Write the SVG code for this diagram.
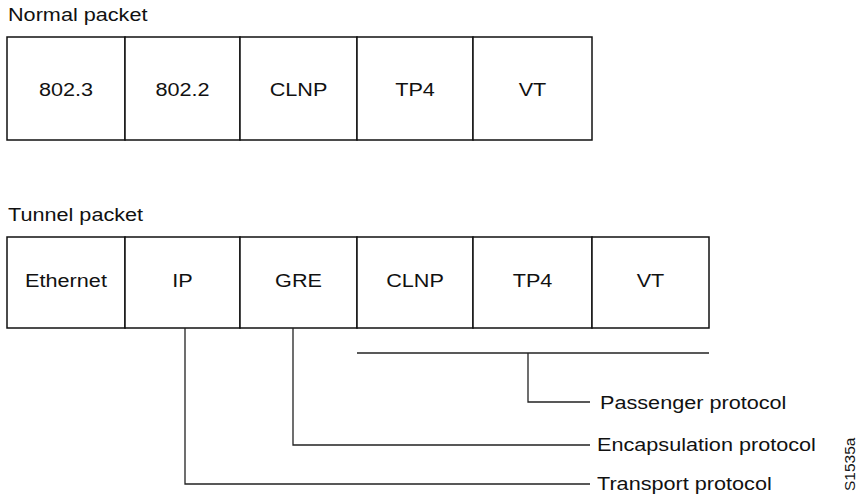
<svg xmlns="http://www.w3.org/2000/svg" width="858" height="500" viewBox="0 0 858 500">
  <style>
    .cell { fill: #fff; stroke: #111; stroke-width: 1.5; }
    .lbl { font-family: "Liberation Sans", Arial, sans-serif; font-size: 18.5px; fill: #111; }
    .mid { text-anchor: middle; }
    .wire { fill: none; stroke: #222; stroke-width: 1.3; }
    .tag { font-family: "Liberation Sans", Arial, sans-serif; font-size: 15.5px; fill: #111; }
  </style>
  <rect width="858" height="500" fill="#fff"/>

  <!-- Section captions -->
  <text class="lbl" transform="translate(8,21) scale(1.17,1)">Normal packet</text>
  <text class="lbl" transform="translate(8,221) scale(1.17,1)">Tunnel packet</text>

  <!-- Normal packet fields -->
  <g id="normal-packet">
    <g id="n-8023"><rect class="cell" x="7" y="37" width="118" height="103"/><text class="lbl mid" transform="translate(66,95.5) scale(1.17,1)">802.3</text></g>
    <g id="n-8022"><rect class="cell" x="125" y="37" width="115" height="103"/><text class="lbl mid" transform="translate(182.5,95.5) scale(1.17,1)">802.2</text></g>
    <g id="n-clnp"><rect class="cell" x="240" y="37" width="117" height="103"/><text class="lbl mid" transform="translate(298.5,95.5) scale(1.17,1)">CLNP</text></g>
    <g id="n-tp4"><rect class="cell" x="357" y="37" width="116" height="103"/><text class="lbl mid" transform="translate(415,95.5) scale(1.17,1)">TP4</text></g>
    <g id="n-vt"><rect class="cell" x="473" y="37" width="119" height="103"/><text class="lbl mid" transform="translate(532.5,95.5) scale(1.17,1)">VT</text></g>
  </g>

  <!-- Tunnel packet fields -->
  <g id="tunnel-packet">
    <g id="t-ethernet"><rect class="cell" x="7" y="237" width="118" height="91"/><text class="lbl mid" transform="translate(66,287) scale(1.17,1)">Ethernet</text></g>
    <g id="t-ip"><rect class="cell" x="125" y="237" width="115" height="91"/><text class="lbl mid" transform="translate(182.5,287) scale(1.17,1)">IP</text></g>
    <g id="t-gre"><rect class="cell" x="240" y="237" width="117" height="91"/><text class="lbl mid" transform="translate(298.5,287) scale(1.17,1)">GRE</text></g>
    <g id="t-clnp"><rect class="cell" x="357" y="237" width="116" height="91"/><text class="lbl mid" transform="translate(415,287) scale(1.17,1)">CLNP</text></g>
    <g id="t-tp4"><rect class="cell" x="473" y="237" width="119" height="91"/><text class="lbl mid" transform="translate(532.5,287) scale(1.17,1)">TP4</text></g>
    <g id="t-vt"><rect class="cell" x="592" y="237" width="117" height="91"/><text class="lbl mid" transform="translate(650.5,287) scale(1.17,1)">VT</text></g>
  </g>

  <!-- Protocol call-out leaders -->
  <g id="connectors">
    <path class="wire" d="M357,353 H709"/>
    <path class="wire" d="M528,353 V402 H590"/>
    <path class="wire" d="M293,328 V445 H590"/>
    <path class="wire" d="M185,328 V484 H590"/>
  </g>

  <g id="callouts">
    <text class="lbl" transform="translate(600,409) scale(1.17,1)">Passenger protocol</text>
    <text class="lbl" transform="translate(597,451) scale(1.17,1)">Encapsulation protocol</text>
    <text class="lbl" transform="translate(597,490) scale(1.17,1)">Transport protocol</text>
  </g>

  <!-- Figure number -->
  <text class="tag" transform="translate(855,491) rotate(-90)">S1535a</text>
</svg>
